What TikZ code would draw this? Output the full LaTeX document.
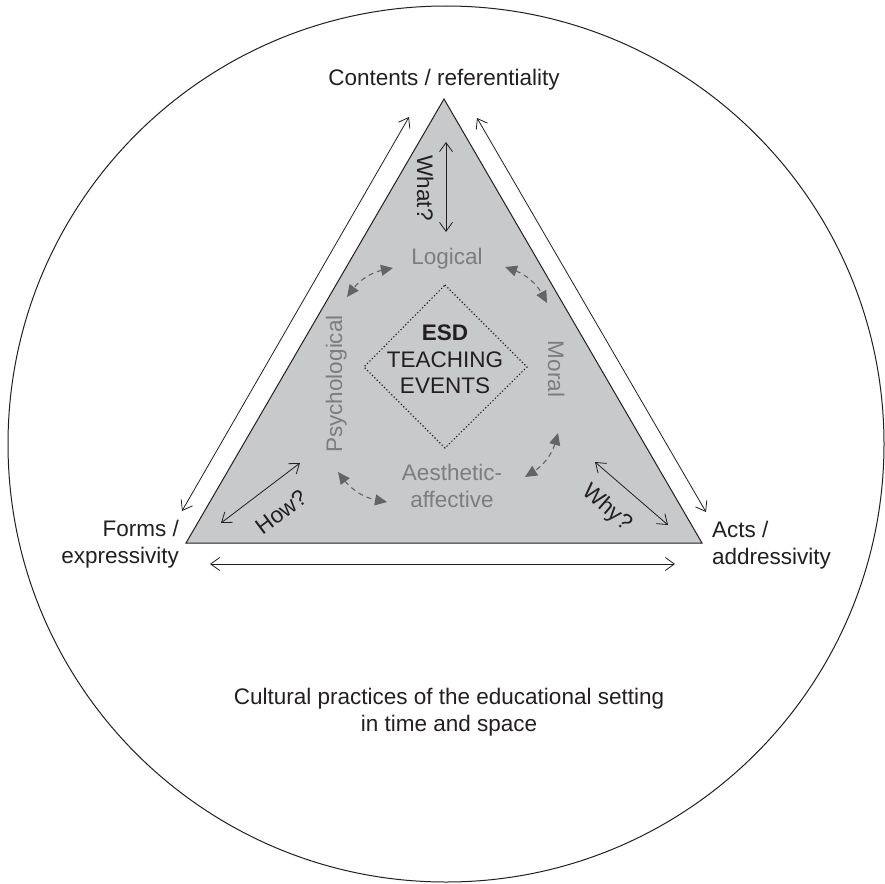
\documentclass[tikz,border=0pt]{standalone}
\usepackage{fontspec}
\setmainfont{Liberation Sans}
\usetikzlibrary{arrows.meta,bending}
\definecolor{trifill}{RGB}{200,201,203}
\definecolor{labgray}{RGB}{125,125,125}
\definecolor{dgray}{RGB}{100,100,100}
\definecolor{ink}{RGB}{35,31,32}
\begin{document}
\begin{tikzpicture}[x=1pt,y=-1pt,
  txt/.style={font=\fontsize{22.5}{26.5}\selectfont, text=ink, inner sep=0pt},
  glab/.style={txt, text=labgray},
  dbl/.style={{Straight Barb[length=9pt,width=13pt]}-{Straight Barb[length=9pt,width=13pt]}, line width=0.8pt, draw=ink},
  dsh/.style={{Triangle[length=12pt,width=11pt]}-{Triangle[length=12pt,width=11pt]}, draw=dgray, line width=1.1pt, dash pattern=on 5pt off 4pt},
]
\useasboundingbox (0,0) rectangle (885,883);
\draw[line width=1pt, ink] (446,444) circle[radius=438];

% triangle
\coordinate (T) at (444,99);
\coordinate (L) at (186,543);
\coordinate (R) at (702,543);
\filldraw[fill=trifill, draw=ink, line width=1pt, line join=miter] (T) -- (L) -- (R) -- cycle;

% diamond
\coordinate (dN) at (445,285);
\coordinate (dE) at (527,367);
\coordinate (dS) at (445,448);
\coordinate (dW) at (364,367);
\draw[ink, line width=1.1pt, dash pattern=on 1.2pt off 2.2pt] (dN) -- (dE) -- (dS) -- (dW) -- cycle;

% labels
\node[txt, anchor=base] (cont) at (444,85) {Contents / referentiality};
\node[txt, anchor=east, align=right] (forms) at (179,544) {Forms /\\expressivity};
\node[txt, anchor=west, align=left] (acts) at (712,545) {Acts /\\addressivity};
\node[txt, align=center] (cult) at (449,712) {Cultural practices of the educational setting\\in time and space};
\node[txt, align=center] (esd) at (445,359.5) {\textbf{ESD}\\TEACHING\\EVENTS};

\node[glab, anchor=base] (logi) at (447,264) {Logical};
\node[glab, anchor=base, rotate=90] (psy) at (342,384) {Psychological};
\node[glab, anchor=base, rotate=-90] (mor) at (548,369) {Moral};
\node[glab, align=center] (aes) at (452,486) {Aesthetic-\\affective};

\node[txt, anchor=base, rotate=-90] (what) at (417,188) {What?};
\node[txt, rotate=37] (how) at (281,512) {How?};
\node[txt, rotate=-41] (why) at (607,508) {Why?};

% outer arrows
\coordinate (a1) at (182,511); \coordinate (a2) at (409,117);
\coordinate (b1) at (477,118); \coordinate (b2) at (706,512);
\coordinate (c1) at (210,564); \coordinate (c2) at (675,564);
\draw[dbl] (a1) -- (a2);
\draw[dbl] (b1) -- (b2);
\draw[dbl] (c1) -- (c2);

% inner arrows
\coordinate (w1) at (446,142); \coordinate (w2) at (446,232);
\coordinate (h1) at (300,463); \coordinate (h2) at (221,523);
\coordinate (y1) at (595,462); \coordinate (y2) at (668,525);
\draw[dbl] (w1) -- (w2);
\draw[dbl] (h1) -- (h2);
\draw[dbl] (y1) -- (y2);

% dashed arrows
\coordinate (d1a) at (393,268); \coordinate (d1b) at (347,297);
\coordinate (d2a) at (505,267); \coordinate (d2b) at (547,303);
\coordinate (d3a) at (558,433); \coordinate (d3b) at (525,477);
\coordinate (d4a) at (338,472); \coordinate (d4b) at (387,502);
\draw[dsh] (d1a) to[bend right=25] (d1b);
\draw[dsh] (d2a) to[bend left=25] (d2b);
\draw[dsh] (d3a) to[bend left=25] (d3b);
\draw[dsh] (d4a) to[bend right=25] (d4b);
\end{tikzpicture}
\end{document}
